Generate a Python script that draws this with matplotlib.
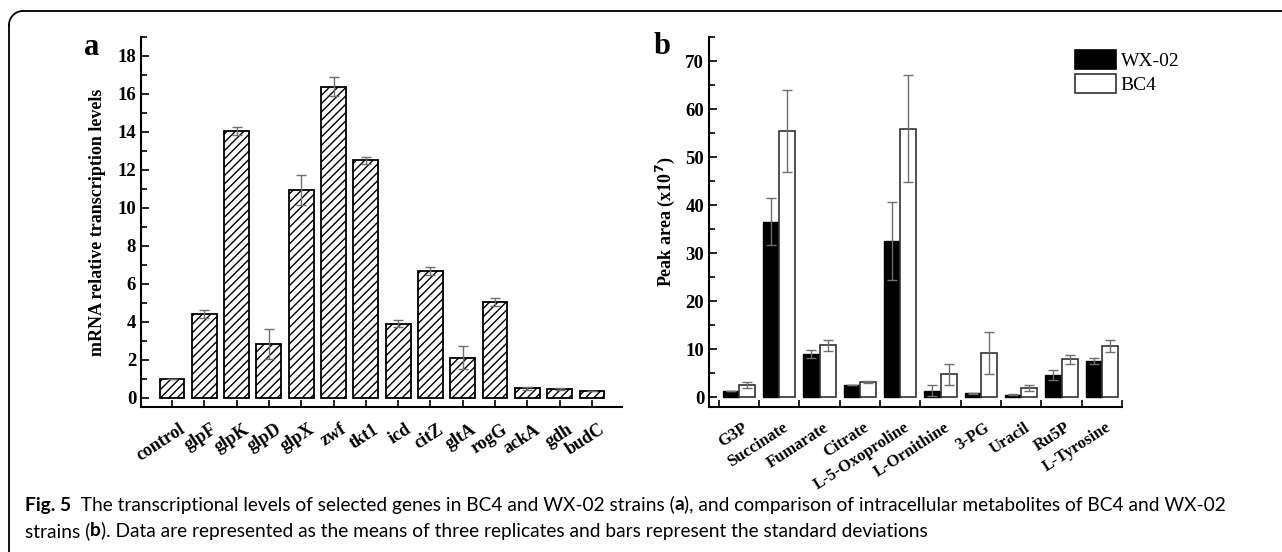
import matplotlib
matplotlib.use("Agg")
import matplotlib.pyplot as plt
import numpy as np
from matplotlib.transforms import ScaledTranslation
from matplotlib.lines import Line2D
from matplotlib.ticker import MultipleLocator, FixedLocator

# ---- data: panel a ----
genes = ["control", "glpF", "glpK", "glpD", "glpX", "zwf", "tkt1", "icd",
         "citZ", "gltA", "rogG", "ackA", "gdh", "budC"]
mrna = [1.0, 4.41, 14.05, 2.81, 10.94, 16.37, 12.5, 3.9, 6.67, 2.09, 5.04, 0.49, 0.44, 0.34]
mrna_sd = [0.0, 0.2, 0.2, 0.8, 0.8, 0.5, 0.2, 0.2, 0.2, 0.6, 0.2, 0.07, 0.06, 0.0]

# ---- data: panel b ----
metabolites = ["G3P", "Succinate", "Fumarate", "Citrate", "L-5-Oxoproline",
               "L-Ornithine", "3-PG", "Uracil", "Ru5P", "L-Tyrosine"]
wx02 = [1.35, 36.6, 9.0, 2.6, 32.5, 1.4, 0.9, 0.55, 4.7, 7.6]
wx02_sd = [0.0, 4.9, 0.85, 0.0, 8.1, 1.1, 0.1, 0.1, 1.0, 0.6]
bc4 = [2.6, 55.4, 10.8, 3.2, 55.9, 4.85, 9.2, 2.0, 7.9, 10.7]
bc4_sd = [0.6, 8.5, 1.2, 0.3, 11.1, 2.2, 4.4, 0.6, 0.9, 1.3]
series_names = ["WX-02", "BC4"]

SERIF = ["Liberation Serif", "DejaVu Serif"]
plt.rcParams["font.family"] = SERIF
plt.rcParams["hatch.linewidth"] = 1.0

W, H = 1282, 552
fig = plt.figure(figsize=(W / 100, H / 100), dpi=100)

def fx(px):
    return px / W

def fy(py):
    return 1 - py / H

# outer frame (top + left lines with rounded corner)
r = 14
fig.add_artist(Line2D([fx(9 + r), fx(W)], [fy(11), fy(11)], color="black", lw=1.3))
fig.add_artist(Line2D([fx(9), fx(9)], [fy(11 + r), fy(H)], color="black", lw=1.3))
th = np.linspace(np.pi / 2, np.pi, 30)
fig.add_artist(Line2D(fx(9 + r + r * np.cos(th)), fy(11 + r - r * np.sin(th)),
                      color="black", lw=1.3))

err_color = "#6f6f6f"

def style_axes(ax):
    for s in ["top", "right"]:
        ax.spines[s].set_visible(False)
    for s in ["left", "bottom"]:
        ax.spines[s].set_linewidth(1.5)
    ax.tick_params(axis="both", which="both", direction="in", width=1.2)
    ax.tick_params(axis="both", which="major", length=6)
    ax.tick_params(axis="y", which="minor", length=4)
    for lab in ax.get_yticklabels():
        lab.set_fontweight("bold")
        lab.set_fontsize(13.5)

# ---- panel a ----
axa = fig.add_axes([fx(141), fy(407), fx(622) - fx(141), fy(37) - fy(407)])
xa = np.arange(len(genes))
axa.bar(xa, mrna, width=0.77, color="white", edgecolor="black", linewidth=1.3,
        hatch="////", zorder=2)
axa.errorbar(xa, mrna, yerr=mrna_sd, fmt="none", ecolor=err_color, elinewidth=1.0,
             capsize=3.5, capthick=1.0, zorder=3)
axa.set_xlim(-0.96, 13.93)
axa.set_ylim(-0.5, 19)
axa.set_yticks(np.arange(0, 19, 2))
axa.yaxis.set_minor_locator(MultipleLocator(1))
axa.set_xticks(xa)
axa.set_xticklabels(genes, rotation=33, ha="right", fontweight="bold", fontsize=13)
style_axes(axa)
axa.tick_params(axis="x", which="major", length=5, pad=10)
for lab in axa.get_xticklabels():
    lab.set_transform(lab.get_transform() + ScaledTranslation(0.16, 0, fig.dpi_scale_trans))
axa.set_ylabel("mRNA relative transcription levels", fontweight="bold", fontsize=13, labelpad=8)
fig.text(fx(92), fy(48), "a", fontsize=22, fontweight="bold", ha="center", va="center")

# ---- panel b ----
axb = fig.add_axes([fx(709), fy(407), fx(1122) - fx(709), fy(37) - fy(407)])
xb = np.arange(len(metabolites))
bw = 0.4
axb.bar(xb - bw / 2, wx02, width=bw, color="black", edgecolor="black", linewidth=1.0,
        label=series_names[0], zorder=2)
axb.bar(xb + bw / 2, bc4, width=bw, color="white", edgecolor="#333333", linewidth=1.2,
        label=series_names[1], zorder=2)
axb.errorbar(xb - bw / 2, wx02, yerr=wx02_sd, fmt="none", ecolor=err_color, elinewidth=1.0,
             capsize=3.5, capthick=1.0, zorder=3)
axb.errorbar(xb + bw / 2, bc4, yerr=bc4_sd, fmt="none", ecolor=err_color, elinewidth=1.0,
             capsize=3.5, capthick=1.0, zorder=3)
axb.set_xlim(-0.74, 9.5)
axb.set_ylim(-2, 75)
axb.set_yticks(np.arange(0, 71, 10))
axb.yaxis.set_minor_locator(MultipleLocator(5))
axb.set_xticks(xb)
axb.set_xticklabels(metabolites, rotation=33, ha="right", fontweight="bold", fontsize=12)
axb.xaxis.set_minor_locator(FixedLocator(np.arange(-0.5, 9.6, 1.0)))
style_axes(axb)
axb.tick_params(axis="x", which="major", length=0, pad=9)
axb.tick_params(axis="x", which="minor", length=5)
for lab in axb.get_xticklabels():
    lab.set_transform(lab.get_transform() + ScaledTranslation(0.12, 0, fig.dpi_scale_trans))
axb.set_ylabel("Peak area (x10$^\\mathbf{7}$)", fontweight="bold", fontsize=13, labelpad=6)
fig.text(fx(662), fy(46), "b", fontsize=22, fontweight="bold", ha="center", va="center")

ax_w = 1122 - 709
ax_h = 407 - 37
leg = axb.legend(loc="upper left",
                 bbox_to_anchor=((1075 - 709) / ax_w, (407 - 50) / ax_h),
                 bbox_transform=axb.transAxes, frameon=False, fontsize=14,
                 handlelength=2.1, handleheight=1.15, handletextpad=0.25, labelspacing=0.18,
                 borderaxespad=0, borderpad=0)
for p in leg.get_patches():
    p.set_linewidth(1.2)

# ---- caption ----
CAP = ["Lato", "DejaVu Sans"]
line1 = [("Fig. 5", True), ("  The transcriptional levels of selected genes in BC4 and WX-02 strains (", False),
         ("a", True), ("), and comparison of intracellular metabolites of BC4 and WX-02", False)]
line2 = [("strains (", False), ("b", True),
         ("). Data are represented as the means of three replicates and bars represent the standard deviations", False)]

def place(parts, y, size):
    x = fx(25)
    arts = []
    for s, bold in parts:
        t = fig.text(x, y, s, fontsize=size, family=CAP, va="center", ha="left",
                     fontweight="bold" if bold else "normal")
        fig.canvas.draw()
        x = t.get_window_extent().x1 / W
        arts.append(t)
    return x * W, arts

size = 12.0
end, arts = place(line1, fy(505), size)
for a in arts:
    a.remove()
size = size * (1226 - 25) / (end - 25)
place(line1, fy(505), size)
place(line2, fy(531), size)

fig.savefig("out.png", dpi=100)
